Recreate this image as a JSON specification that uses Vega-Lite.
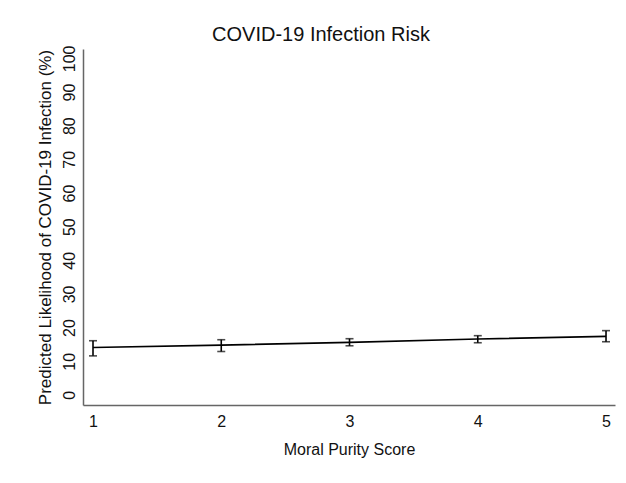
{
  "$schema": "https://vega.github.io/schema/vega-lite/v6.json",
  "autosize": {"type": "none"},
  "padding": {"left": 83, "top": 49, "right": 11, "bottom": 78},
  "width": 532,
  "height": 356,
  "background": "white",
  "config": {
    "font": "Liberation Sans",
    "view": {"stroke": null},
    "axis": {
      "grid": false,
      "ticks": false,
      "domainColor": "#666",
      "domainWidth": 1.5,
      "labelFontSize": 16,
      "labelColor": "#111",
      "labelFlush": false,
      "labelOverlap": false,
      "titleFontWeight": "normal",
      "titleColor": "#111"
    }
  },
  "title": {
    "text": "COVID-19 Infection Risk",
    "fontSize": 20,
    "fontWeight": "normal",
    "font": "Liberation Sans",
    "color": "#111",
    "anchor": "middle",
    "frame": "group",
    "baseline": "alphabetic",
    "offset": 6,
    "dx": -28,
    "dy": 22
  },
  "data": {
    "values": [
      {"score": 1, "risk": 14.1, "lo": 11.6, "hi": 16.1},
      {"score": 2, "risk": 14.8, "lo": 12.9, "hi": 16.4},
      {"score": 3, "risk": 15.6, "lo": 14.6, "hi": 16.7},
      {"score": 4, "risk": 16.6, "lo": 15.5, "hi": 17.6},
      {"score": 5, "risk": 17.4, "lo": 15.8, "hi": 19.1}
    ]
  },
  "encoding": {
    "x": {
      "field": "score",
      "type": "quantitative",
      "scale": {"domain": [0.922, 5.07], "nice": false, "zero": false},
      "axis": {
        "title": "Moral Purity Score",
        "values": [1, 2, 3, 4, 5],
        "format": "d",
        "labelFontSize": 16,
        "labelPadding": 8,
        "titleFontSize": 16,
        "titlePadding": 12
      }
    }
  },
  "layer": [
    {
      "mark": {"type": "line", "color": "black", "strokeWidth": 1.6},
      "encoding": {
        "y": {
          "field": "risk",
          "type": "quantitative",
          "scale": {"domain": [-3, 102.8], "nice": false, "zero": false},
          "axis": {
            "title": "Predicted Likelihood of COVID-19 Infection (%)",
            "values": [0, 10, 20, 30, 40, 50, 60, 70, 80, 90, 100],
            "labelOverlap": false,
            "labelAngle": -90,
            "labelFontSize": 16,
            "labelPadding": 6,
            "titleFontSize": 17,
            "titlePadding": 7
          }
        }
      }
    },
    {
      "mark": {"type": "rule", "color": "black", "strokeWidth": 1.6},
      "encoding": {
        "y": {
          "field": "lo",
          "type": "quantitative",
          "axis": {
            "title": "Predicted Likelihood of COVID-19 Infection (%)",
            "values": [0, 10, 20, 30, 40, 50, 60, 70, 80, 90, 100],
            "labelOverlap": false,
            "labelAngle": -90,
            "labelFontSize": 16,
            "labelPadding": 6,
            "titleFontSize": 17,
            "titlePadding": 7
          }
        },
        "y2": {"field": "hi"}
      }
    },
    {
      "mark": {"type": "tick", "color": "black", "orient": "horizontal", "size": 8, "thickness": 1.6},
      "encoding": {
        "y": {
          "field": "lo",
          "type": "quantitative",
          "axis": {
            "title": "Predicted Likelihood of COVID-19 Infection (%)",
            "values": [0, 10, 20, 30, 40, 50, 60, 70, 80, 90, 100],
            "labelOverlap": false,
            "labelAngle": -90,
            "labelFontSize": 16,
            "labelPadding": 6,
            "titleFontSize": 17,
            "titlePadding": 7
          }
        }
      }
    },
    {
      "mark": {"type": "tick", "color": "black", "orient": "horizontal", "size": 8, "thickness": 1.6},
      "encoding": {
        "y": {
          "field": "hi",
          "type": "quantitative",
          "axis": {
            "title": "Predicted Likelihood of COVID-19 Infection (%)",
            "values": [0, 10, 20, 30, 40, 50, 60, 70, 80, 90, 100],
            "labelOverlap": false,
            "labelAngle": -90,
            "labelFontSize": 16,
            "labelPadding": 6,
            "titleFontSize": 17,
            "titlePadding": 7
          }
        }
      }
    }
  ]
}
